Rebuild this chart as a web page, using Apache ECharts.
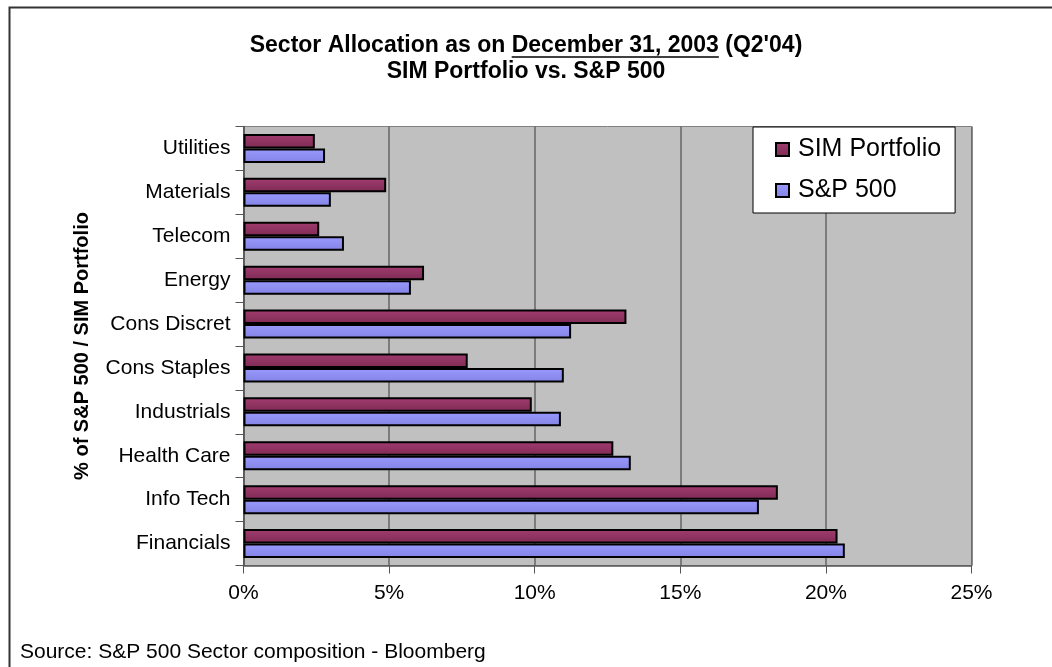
<!DOCTYPE html>
<html>
<head>
<meta charset="utf-8">
<script src="https://cdn.jsdelivr.net/npm/echarts@6/dist/echarts.min.js"></script>
<style>
html,body{margin:0;padding:0;background:#fff;}
#chart{width:1052px;height:667px;}
</style>
</head>
<body>
<div id="chart"></div>
<script>
// Categories listed bottom-to-top (ECharts category y-axis starts at the bottom)
const categories = ['Financials', 'Info Tech', 'Health Care', 'Industrials', 'Cons Staples', 'Cons Discret', 'Energy', 'Telecom', 'Materials', 'Utilities'];
const simPortfolio = [20.4, 18.35, 12.7, 9.9, 7.7, 13.15, 6.2, 2.6, 4.9, 2.45];
const sp500 = [20.65, 17.7, 13.3, 10.9, 11.0, 11.25, 5.75, 3.45, 3.0, 2.8];
const xTicks = [0, 5, 10, 15, 20, 25];
const seriesNames = ['SIM Portfolio', 'S&P 500'];
const titlePre = 'Sector Allocation as on ';
const titleDate = 'December 31, 2003';
const titlePost = ' (Q2\'04)';
const subTitle = 'SIM Portfolio vs. S&P 500';

const FONT = '"Liberation Sans", Arial, sans-serif';
const TITLE_SIZE = 23;
const TITLE_TOP = 28;
const chart = echarts.init(document.getElementById('chart'), null, {renderer: 'canvas'});

function grad(c1, c2) {
  return new echarts.graphic.LinearGradient(0, 0, 0, 1, [
    {offset: 0, color: c1}, {offset: 1, color: c2}
  ]);
}

// measure title pieces to place the underline under the date
const ctx = document.createElement('canvas').getContext('2d');
ctx.font = 'bold ' + TITLE_SIZE + 'px ' + FONT;
const wFull = ctx.measureText(titlePre + titleDate + titlePost).width;
const wPre = ctx.measureText(titlePre).width;
const wDate = ctx.measureText(titleDate).width;
const ux0 = 1052 / 2 - wFull / 2 + wPre;
const uy = TITLE_TOP + 5 + 24;

chart.setOption({
  animation: false,
  backgroundColor: '#ffffff',
  textStyle: {fontFamily: FONT},
  title: {
    text: titlePre + titleDate + titlePost + '\n' + subTitle,
    left: 'center',
    top: TITLE_TOP,
    textStyle: {
      fontFamily: FONT, fontSize: TITLE_SIZE, fontWeight: 'bold', color: '#000', lineHeight: 26
    }
  },
  legend: {
    data: seriesNames,
    orient: 'vertical',
    left: 753,
    top: 127,
    backgroundColor: '#ffffff',
    borderColor: '#000',
    borderWidth: 1,
    padding: [10, 14, 10, 22],
    itemGap: 16,
    itemWidth: 13,
    itemHeight: 13,
    icon: 'rect',
    textStyle: {fontFamily: FONT, fontSize: 25, color: '#000', padding: [0, 0, 0, 4]}
  },
  grid: {
    left: 243.5,
    right: 80.5,
    top: 126.5,
    bottom: 101.5,
    show: true,
    backgroundColor: '#c0c0c0',
    borderColor: '#808080',
    borderWidth: 1,
    containLabel: false
  },
  xAxis: {
    type: 'value',
    min: xTicks[0],
    max: xTicks[xTicks.length - 1],
    interval: 5,
    axisLine: {show: true, lineStyle: {color: '#555', width: 1.5}},
    axisTick: {show: true, length: 8, lineStyle: {color: '#555'}},
    axisLabel: {formatter: '{value}%', fontFamily: FONT, fontSize: 21, color: '#000', margin: 17},
    splitLine: {show: true, lineStyle: {color: '#666', width: 1.5}}
  },
  yAxis: {
    type: 'category',
    data: categories,
    name: '% of S&P 500 / SIM Portfolio',
    nameLocation: 'middle',
    nameGap: 151,
    nameRotate: 90,
    nameTextStyle: {fontFamily: FONT, fontSize: 20, fontWeight: 'bold', color: '#000'},
    axisLine: {show: true, lineStyle: {color: '#555', width: 1.5}},
    axisTick: {show: true, length: 8, lineStyle: {color: '#555'}},
    axisLabel: {fontFamily: FONT, fontSize: 21, color: '#000', margin: 13},
    splitLine: {show: false}
  },
  series: [
    {
      name: seriesNames[0],
      type: 'bar',
      data: simPortfolio,
      barWidth: 14.5,
      barGap: '0%',
      itemStyle: {color: grad('#a13d70', '#7f2a54'), borderColor: '#000', borderWidth: 2}
    },
    {
      name: seriesNames[1],
      type: 'bar',
      data: sp500,
      barWidth: 14.5,
      barGap: '0%',
      itemStyle: {color: grad('#9a9aff', '#8383e4'), borderColor: '#000', borderWidth: 2}
    }
  ],
  graphic: [
    {type: 'rect', shape: {x: 9.5, y: 7.5, width: 1100, height: 700}, style: {fill: 'none', stroke: '#333', lineWidth: 2}, silent: true},
    {type: 'line', shape: {x1: ux0, y1: uy, x2: ux0 + wDate, y2: uy}, style: {stroke: '#000', lineWidth: 1.5}, silent: true},
    {type: 'text', left: 20, top: 642, style: {text: 'Source: S&P 500 Sector composition - Bloomberg', font: '21px "Liberation Sans", Arial, sans-serif', fill: '#000'}}
  ]
});
</script>
</body>
</html>
